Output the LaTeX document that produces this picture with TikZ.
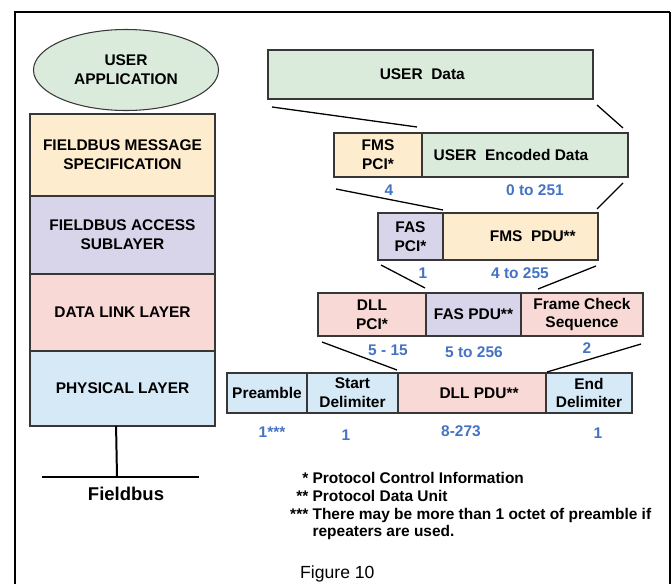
\documentclass[tikz,border=0pt]{standalone}
\usepackage{fontspec}
\setmainfont{Liberation Sans}
\usetikzlibrary{positioning,shapes.geometric}

\definecolor{edge}{RGB}{55,55,55}
\definecolor{usergreen}{RGB}{218,235,220}
\definecolor{fmstan}{RGB}{253,236,205}
\definecolor{faslilac}{RGB}{216,213,234}
\definecolor{dllpink}{RGB}{248,217,214}
\definecolor{phyblue}{RGB}{213,233,246}
\definecolor{numblue}{RGB}{68,114,196}

\begin{document}
\begin{tikzpicture}[x=0.03cm, y=-0.03cm,
      every node/.style = {font=\fontsize{13.2}{16}\selectfont\bfseries, inner sep=1pt},
      layer/.style = {shape=rectangle, draw=edge, line width=0.9pt, outer sep=0pt,
        align=center, minimum width=5.55cm, fill=#1},
      field/.style 2 args = {shape=rectangle, draw=edge, line width=0.9pt, outer sep=0pt,
        align=center, minimum width=#2, fill=#1},
      octets/.style = {text=numblue, anchor=base},
      zoomline/.style = {line width=1.1pt},
      bus/.style = {line width=1.7pt}]
    \useasboundingbox (0,0) rectangle (672,584);
    \draw[line width=2pt] (15,584) -- (15,12) -- (670,12);
    \draw[line width=1.3pt] (670,12) -- (670,584);

    \node (userapp) [ellipse, draw=edge, line width=0.9pt, fill=usergreen, align=center,
      minimum width=5.55cm, minimum height=2.43cm, inner sep=0pt] at (126,70) {USER\\APPLICATION};
    \node (fms) [layer=fmstan, minimum height=2.46cm] at (122.5,155) {FIELDBUS MESSAGE\\SPECIFICATION};
    \node (fas) [layer=faslilac, minimum height=2.34cm, below=0pt of fms] {FIELDBUS ACCESS\\SUBLAYER};
    \node (dll) [layer=dllpink, minimum height=2.31cm, below=0pt of fas] {DATA LINK LAYER};
    \node (phy) [layer=phyblue, minimum height=2.25cm, below=0pt of dll] {PHYSICAL LAYER};

    \coordinate (tap) at (117,477);
    \draw[bus] ([xshift=-5.5]phy.south) -- (tap);
    \draw[bus] (42,477) -- (199,477);
    \node (fieldbus) [font=\fontsize{15.8}{18}\selectfont\bfseries, anchor=base] at (126,500.7) {Fieldbus};

    \node (userdata) [field={usergreen}{9.75cm}, minimum height=1.47cm] at (430.5,74.5) {USER\ \ Data\kern14pt};

    \node (fmspci) [field={fmstan}{2.64cm}, minimum height=1.32cm] at (378,155) {FMS\\PCI*};
    \node (userenc) [field={usergreen}{6.18cm}, minimum height=1.32cm, right=0pt of fmspci] {USER\ \ Encoded Data\kern24pt};

    \node (faspci) [field={faslilac}{1.95cm}, minimum height=1.41cm] at (410.5,236.5) {FAS\\PCI*};
    \node (fmspdu) [field={fmstan}{4.65cm}, minimum height=1.41cm, right=0pt of faspci] {\kern21pt FMS\ \ PDU**};

    \node (dllpci) [field={dllpink}{3.24cm}, minimum height=1.29cm] at (372,314.5) {DLL\\PCI*};
    \node (faspdu) [field={faslilac}{2.85cm}, minimum height=1.29cm, right=0pt of dllpci] {FAS PDU**};
    \node (fcs) [field={dllpink}{3.66cm}, minimum height=1.29cm, right=0pt of faspdu] {Frame Check\\Sequence};

    \node (preamble) [field={phyblue}{2.4cm}, minimum height=1.2cm] at (267,393) {Preamble};
    \node (startdel) [field={phyblue}{2.73cm}, minimum height=1.2cm, right=0pt of preamble] {Start\\Delimiter};
    \node (dllpdu) [field={dllpink}{4.44cm}, minimum height=1.2cm, right=0pt of startdel] {\kern12pt DLL PDU**};
    \node (enddel) [field={phyblue}{2.58cm}, minimum height=1.2cm, right=0pt of dllpdu] {End\\Delimiter};

    \node[octets] (fmspcilen) at (389,195) {4};
    \node[octets] (userenclen) at (535,195) {0 to 251};
    \node[octets] (faspcilen) at (423,278) {1};
    \node[octets] (fmspdulen) at (520,278) {4 to 255};
    \node[octets] (dllpcilen) at (388,355) {5 - 15};
    \node[octets] (faspdulen) at (474,357) {5 to 256};
    \node[octets] (fcslen) at (587,353) {2};
    \node[octets] (preamblelen) at (272,437) {1***};
    \node[octets] (startdellen) at (346,440) {1};
    \node[octets] (dllpdulen) at (461,436) {8-273};
    \node[octets] (enddellen) at (598,438) {1};

    \draw[zoomline] ([shift={(4,8)}]userdata.south west) -- ([shift={(-5,-6)}]fmspci.north east);
    \draw[zoomline] ([shift={(4,6)}]userdata.south east) -- ([shift={(-5,-5)}]userenc.north east);
    \draw[zoomline] ([shift={(2,12)}]fmspci.south west) -- ([shift={(0,-3)}]faspci.north east);
    \draw[zoomline] ([shift={(-5,6)}]userenc.south east) -- ([shift={(-1,-4)}]fmspdu.north east);
    \draw[zoomline] ([shift={(3,5)}]faspci.south west) -- ([shift={(-1,-5)}]faspdu.north west);
    \draw[zoomline] ([shift={(-2,6)}]fmspdu.south east) -- ([shift={(17,-4)}]fcs.north west);
    \draw[zoomline] ([shift={(4,6)}]dllpci.south west) -- ([shift={(-1,-3)}]dllpdu.north west);
    \draw[zoomline] ([shift={(-2,8)}]fcs.south east) -- ([shift={(1,-1)}]enddel.north west);

    \node (notes) [anchor=north west, inner sep=0pt, font=\fontsize{13.2}{15.3}\selectfont\bfseries] at (290,470.4)
      {\begin{tabular}{@{}r@{\ }l@{}}
        {*} & Protocol Control Information\\
        {**} & Protocol Data Unit\\
        {***} & There may be more than 1 octet of preamble if\\
         & repeaters are used.
      \end{tabular}};
    \node (caption) [font=\fontsize{15}{18}\selectfont, anchor=base west, inner sep=0pt] at (300,578) {Figure 10};
  \end{tikzpicture}
\end{document}
